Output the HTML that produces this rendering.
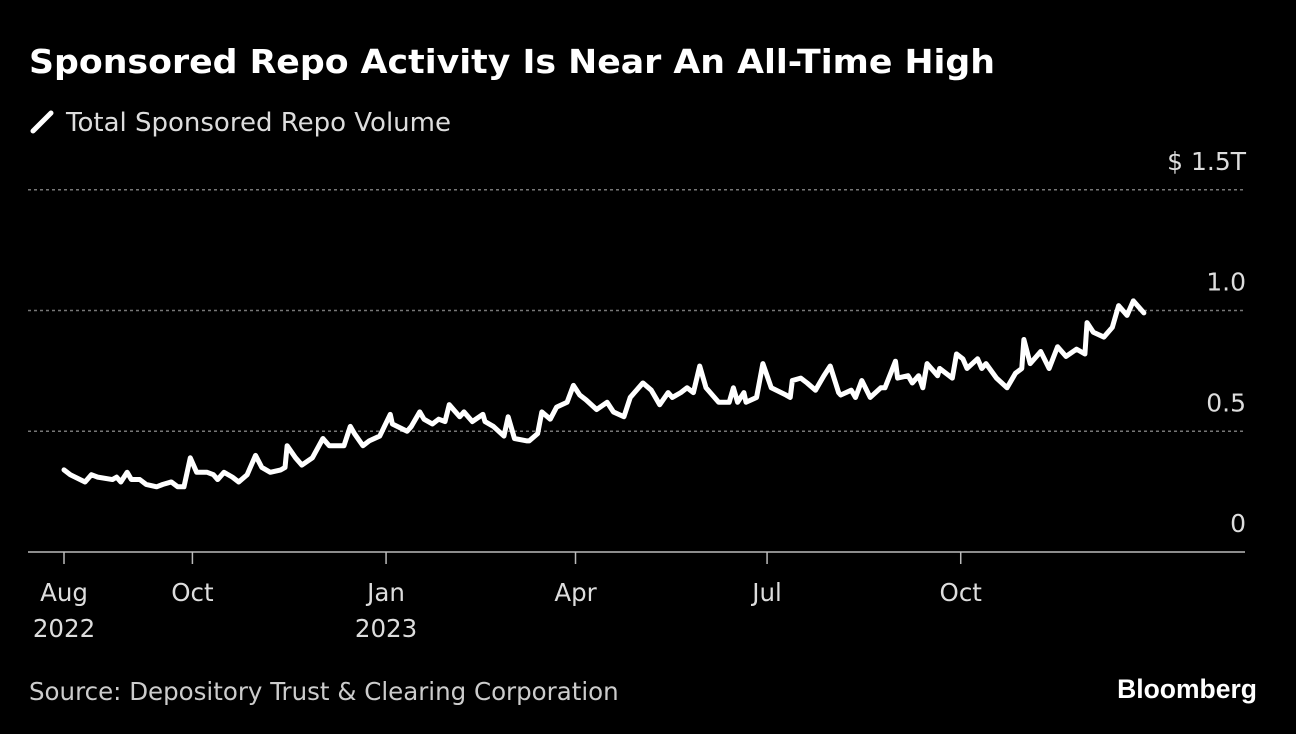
<!DOCTYPE html>
<html><head><meta charset="utf-8"><style>
html,body{margin:0;padding:0;background:#000;}
body{width:1296px;height:734px;overflow:hidden;position:relative;font-family:"Liberation Sans","DejaVu Sans",sans-serif;color:#fff;}
.t{position:absolute;white-space:nowrap;}
</style></head><body>
<div class="t" id="title" style="left:29px;top:42px;font-size:33px;font-weight:bold;font-family:'DejaVu Sans',sans-serif;transform-origin:0 0;">Sponsored Repo Activity Is Near An All-Time High</div>
<div class="t" style="left:30px;top:108px;font-size:26px;color:#ddd;font-family:'DejaVu Sans',sans-serif;">
<svg width="24" height="24" style="vertical-align:-3px;margin-right:12px"><line x1="3" y1="21" x2="21" y2="3" stroke="#fff" stroke-width="5" stroke-linecap="round"/></svg><span id="leg">Total Sponsored Repo Volume</span></div>
<svg id="chart" width="1296" height="734" style="position:absolute;left:0;top:0"></svg>
<div class="t" style="left:29px;top:677px;font-size:24.5px;color:#ccc;font-family:'DejaVu Sans',sans-serif;">Source: Depository Trust &amp; Clearing Corporation</div>
<div class="t" style="right:39px;top:674px;font-size:26.5px;font-weight:bold;">Bloomberg</div>
<script>
const days=[0,3,10,13,16,23,25,27,30,32,36,39,44,47,51,54,57,60,63,68,71,73,76,80,83,87,91,94,98,103,105,106,110,113,118,123,126,133,136,138,142,145,150,155,156,163,165,169,171,175,178,181,183,186,188,190,194,199,200,204,209,211,214,220,221,225,227,231,234,239,242,245,248,253,258,261,266,269,275,279,283,287,289,293,296,299,302,305,311,316,318,320,323,324,329,332,336,343,345,346,350,353,357,361,364,368,369,374,376,379,383,388,390,395,396,401,403,406,408,410,415,416,422,424,427,429,434,436,438,443,448,452,455,456,459,464,468,472,476,481,485,486,489,494,498,501,505,508,513];
const values=[.34,.32,.29,.32,.31,.30,.31,.29,.33,.30,.30,.28,.27,.28,.29,.27,.27,.39,.33,.33,.32,.30,.33,.31,.29,.32,.40,.35,.33,.34,.35,.44,.39,.36,.39,.47,.44,.44,.52,.49,.44,.46,.48,.57,.53,.50,.52,.58,.55,.53,.55,.54,.61,.58,.56,.58,.54,.57,.54,.52,.48,.56,.47,.46,.46,.49,.58,.55,.60,.62,.69,.65,.63,.59,.62,.58,.56,.64,.70,.67,.61,.66,.64,.66,.68,.66,.77,.68,.62,.62,.68,.62,.66,.62,.64,.78,.68,.65,.64,.71,.72,.70,.67,.73,.77,.66,.65,.67,.64,.71,.64,.68,.68,.79,.72,.73,.70,.73,.68,.78,.73,.76,.72,.82,.80,.76,.80,.76,.78,.72,.68,.74,.76,.88,.78,.83,.76,.85,.81,.84,.82,.95,.91,.89,.93,1.02,.98,1.04,.99];
const yTicks=[0,0.5,1.0,1.5];
const yTickLabels=["0","0.5","1.0","$ 1.5T"];
const xTickDays=[0,61,153,243,334,426];
const xTickLabels=[["Aug","2022"],["Oct",""],["Jan","2023"],["Apr",""],["Jul",""],["Oct",""]];
const NS="http://www.w3.org/2000/svg";
const svg=document.getElementById('chart');
const X=d=>64+d*2.105;
const Y=v=>552-v*241.5;
function mk(tag,attrs){const e=document.createElementNS(NS,tag);for(const k in attrs)e.setAttribute(k,attrs[k]);svg.appendChild(e);return e;}
yTicks.forEach((v,i)=>{
  if(v>0){const g=mk('line',{x1:28,x2:1245,y1:Y(v),y2:Y(v),stroke:'#777','stroke-width':1.5,'stroke-dasharray':'3,3'});
  
  }
  const t=mk('text',{x:1246,y:Y(v)-20,'text-anchor':'end','font-size':25,fill:'#ddd','font-family':'DejaVu Sans, sans-serif'});
  t.textContent=yTickLabels[i];
  
  
});
const ax=mk('line',{x1:28,x2:1245,y1:552,y2:552,stroke:'#bbb','stroke-width':1.5});


xTickDays.forEach((d,i)=>{
  const tk=mk('line',{x1:X(d),x2:X(d),y1:552,y2:564,stroke:'#bbb','stroke-width':1.5});
  
  
  xTickLabels[i].forEach((s,j)=>{if(!s)return;
    const t=mk('text',{x:X(d),y:601+j*36,'text-anchor':'middle','font-size':24.5,fill:'#ddd','font-family':'DejaVu Sans, sans-serif'});
    t.textContent=s;
    
    
  });
});
const p=mk('polyline',{points:days.map((d,i)=>X(d)+','+Y(values[i])).join(' '),fill:'none',stroke:'#fff','stroke-width':5,'stroke-linejoin':'round','stroke-linecap':'round'});


const ti=document.getElementById('title');
const w=ti.getBoundingClientRect().width;
ti.style.transform='scaleX('+(966/w)+')';
</script>
</body></html>
